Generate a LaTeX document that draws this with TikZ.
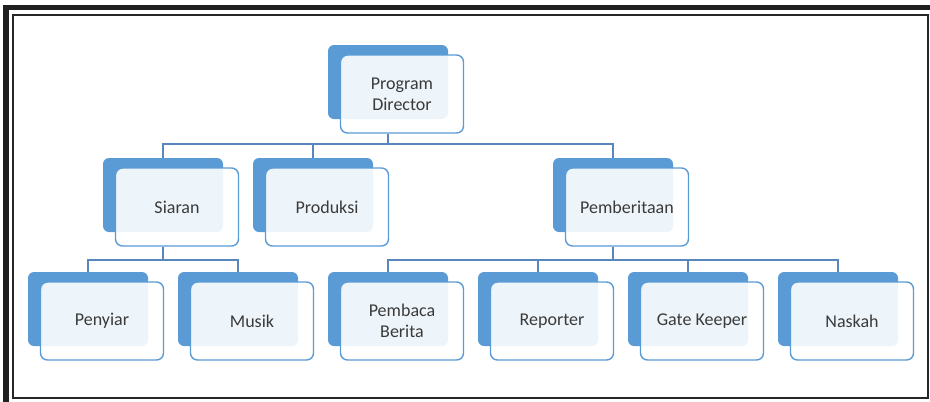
\documentclass[tikz,border=0pt]{standalone}
\usepackage{fontspec}
\setmainfont{Carlito}
\usepackage{xcolor}
\usetikzlibrary{positioning,calc}
\definecolor{boxblue}{HTML}{5B9BD5}
\definecolor{lineblue}{HTML}{5A86BE}
\definecolor{txtgray}{HTML}{3A3A3A}

\begin{document}
\begin{tikzpicture}[x=1pt,y=-1pt,
  back/.style={fill=boxblue,rounded corners=6pt,minimum width=120pt,minimum height=74pt,inner sep=0pt},
  front/.style={draw=boxblue,line width=1.4pt,fill=white,fill opacity=0.9,text opacity=1,rounded corners=7pt,
    minimum width=123pt,minimum height=78pt,inner sep=2pt,align=center,text=txtgray,font=\fontsize{18}{21}\selectfont},
  conn/.style={draw=lineblue,line width=1.3pt}]
  \useasboundingbox (0,0) rectangle (930,402);
  % frame
  \fill[black!88] (3,5) rectangle (930,10);
  \fill[black!88] (3,5) rectangle (9,402);
  \draw[black!85,line width=1.3pt] (13,15) rectangle (928,398);
  % top
  \node[back] (pdB) at (388,82) {};
  \node[front] (pd) at (402,94) {Program\\Director};
  % second row
  \foreach \n/\x/\t in {siaran/163/Siaran, produksi/313/Produksi, berita/613/Pemberitaan}{
    \node[back] (\n B) at (\x,195) {};
    \node[front] (\n) at (\x+14,207) {\t};}
  % third row
  \foreach \n/\x/\t in {penyiar/88/Penyiar, musik/238/Musik, pembaca/388/{Pembaca\\Berita},
      reporter/538/Reporter, gate/688/Gate Keeper, naskah/838/Naskah}{
    \node[back] (\n B) at (\x,309) {};
    \node[front] (\n) at (\x+14,321) {\t};}
  % connectors
  \coordinate (bus1) at (388,144);
  \coordinate (bus2) at (163,260);
  \coordinate (bus3) at (613,260);
  \draw[conn] (pd.south -| bus1) -- (bus1);
  \draw[conn] (siaran.south -| bus2) -- (bus2);
  \draw[conn] (berita.south -| bus3) -- (bus3);
  \foreach \n in {siaran,produksi,berita} \draw[conn] (\n B.north) |- (bus1);
  \foreach \n in {penyiar,musik} \draw[conn] (\n B.north) |- (bus2);
  \foreach \n in {pembaca,reporter,gate,naskah} \draw[conn] (\n B.north) |- (bus3);
\end{tikzpicture}
\end{document}
